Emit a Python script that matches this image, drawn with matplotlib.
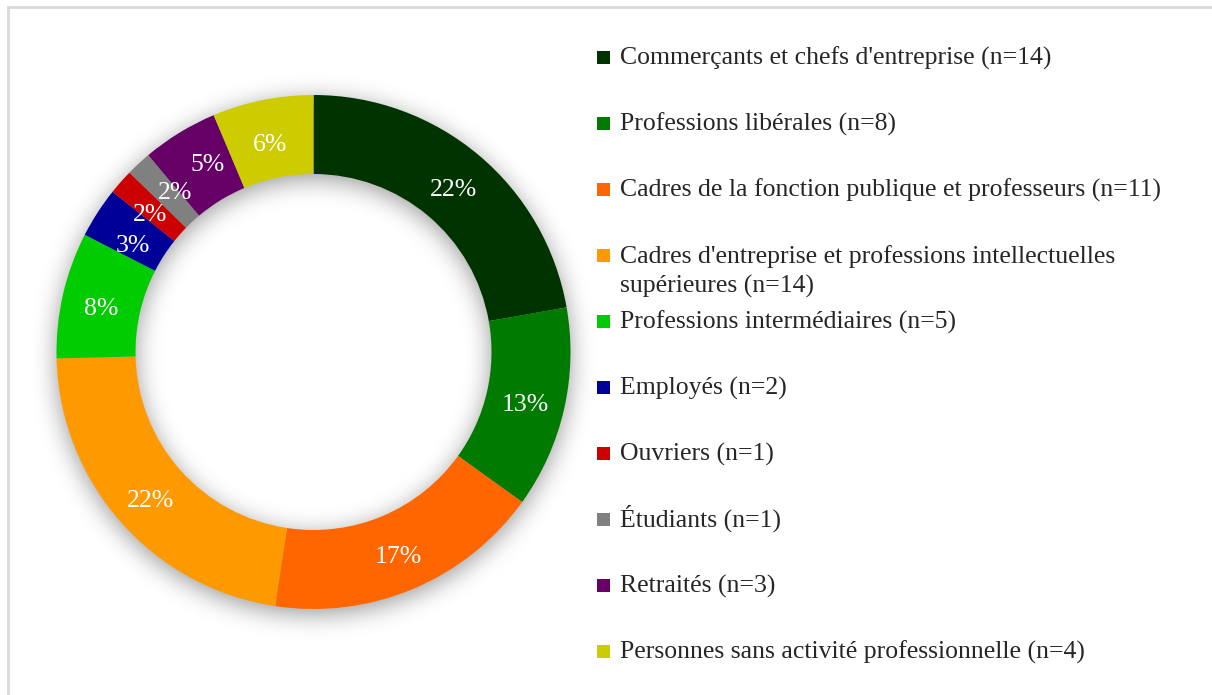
import numpy as np
import matplotlib
matplotlib.use("Agg")
import matplotlib.pyplot as plt
from matplotlib.patches import Rectangle

# ---- data ----
labels = [
    "Commerçants et chefs d'entreprise (n=14)",
    "Professions libérales (n=8)",
    "Cadres de la fonction publique et professeurs (n=11)",
    "Cadres d'entreprise et professions intellectuelles\nsupérieures (n=14)",
    "Professions intermédiaires (n=5)",
    "Employés (n=2)",
    "Ouvriers (n=1)",
    "Étudiants (n=1)",
    "Retraités (n=3)",
    "Personnes sans activité professionnelle (n=4)",
]
counts = [14, 8, 11, 14, 5, 2, 1, 1, 3, 4]
colors = ["#003300", "#007A00", "#FF6600", "#FF9900", "#00CC00",
          "#000099", "#CC0000", "#808080", "#660066", "#CCCC00"]

W, H = 1212, 695
fig = plt.figure(figsize=(W / 100, H / 100), dpi=100)
ax = fig.add_axes([0, 0, 1, 1])
ax.set_xlim(0, W)
ax.set_ylim(0, H)
ax.set_aspect("equal")
ax.axis("off")

FONT = "Liberation Serif"
FS = 18.5
cx, cy = 313.5, H - 352
R, RW = 257, 79

# soft drop shadow (decoration)
xs = np.arange(0, 640)
ys = np.arange(0, H)
X, Y = np.meshgrid(xs + 0.5, ys + 0.5)
off = 5
d = np.hypot(X - cx, Y - (cy - off))
mask = ((d <= R) & (d >= R - RW)).astype(float)
sig = 12
k = np.arange(-3 * sig, 3 * sig + 1)
g = np.exp(-k ** 2 / (2 * sig ** 2)); g /= g.sum()
blur = np.apply_along_axis(lambda r: np.convolve(r, g, mode="same"), 1, mask)
blur = np.apply_along_axis(lambda c: np.convolve(c, g, mode="same"), 0, blur)
rgba = np.zeros((H, 640, 4))
rgba[..., 3] = blur * 0.40
ax.imshow(rgba, extent=(0, 640, 0, H), origin="lower", zorder=0, interpolation="bilinear")
ax.set_xlim(0, W)
ax.set_ylim(0, H)

wedges, texts, autotexts = ax.pie(
    counts, colors=colors, startangle=90, counterclock=False,
    center=(cx, cy), radius=R, autopct="%1.0f%%", pctdistance=(R - RW / 2) / R,
    wedgeprops=dict(width=RW, linewidth=0),
    textprops=dict(color="white", fontsize=FS, family=FONT),
)
for w in wedges:
    w.set_zorder(2)
# label nudges (pixels, right / down) to mimic the reference's placement
nudges = {5: (2, 7), 6: (0, 2), 7: (10, -5), 8: (8, -6), 9: (0, 1)}
for i, t in enumerate(autotexts):
    t.set_zorder(3)
    x, y = t.get_position()
    ndx, ndy = nudges.get(i, (0, 0))
    t.set_position((x + ndx, y - 5 - ndy))
ax.set_xlim(0, W)
ax.set_ylim(0, H)

# legend
y0, step = 57, 66
for i, (lab, col) in enumerate(zip(labels, colors)):
    y = H - (y0 + step * i)
    ax.add_patch(Rectangle((597, y - 6.5), 13, 13, facecolor=col, edgecolor="none"))
    for j, ln in enumerate(lab.split("\n")):
        ax.text(620, y - 7.5 - 30 * j, ln, fontsize=FS, family=FONT, color="#262626",
                va="baseline", ha="left")

# frame (top and left edges visible)
fig.add_artist(Rectangle((8 / W, -0.1), 1.2, (H - 7) / H + 0.1, transform=fig.transFigure,
                         fill=False, edgecolor="#D9D9D9", linewidth=2))

fig.savefig("out.png", dpi=100, facecolor="white")
